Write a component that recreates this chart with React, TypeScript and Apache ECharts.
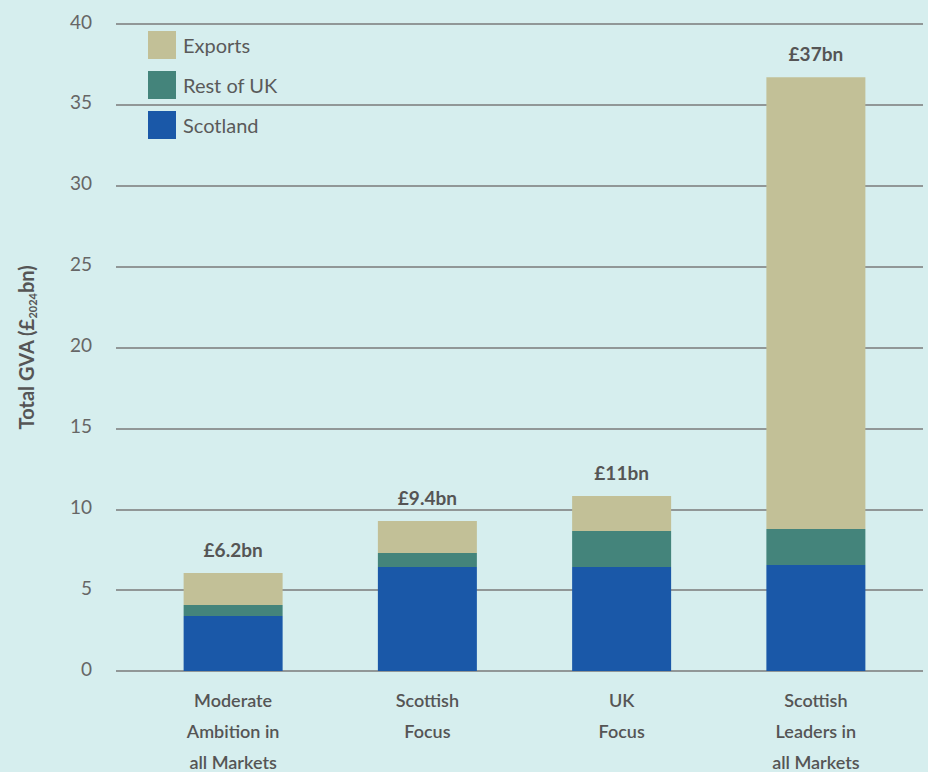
import React, { useEffect, useRef } from "react";
import * as echarts from "echarts";

const categories = ["Moderate\nAmbition in\nall Markets", "Scottish\nFocus", "UK\nFocus", "Scottish\nLeaders in\nall Markets"];
const scotland = [3.4, 6.43, 6.43, 6.55];
const restOfUK = [0.68, 0.86, 2.22, 2.23];
const exportsVals = [1.98, 1.98, 2.17, 27.93];
const totalLabels = ["£6.2bn", "£9.4bn", "£11bn", "£37bn"];
const yTicks = [0, 5, 10, 15, 20, 25, 30, 35, 40];

const FONT = "Lato, 'Noto Sans', sans-serif";
const BG = "#d6eeee";

export default function App() {
  const ref = useRef<HTMLDivElement>(null);
  useEffect(() => {
    if (!ref.current) return;
    const chart = echarts.init(ref.current, null, { renderer: "svg" });
    const yMin = yTicks[0];
    const yMax = yTicks[yTicks.length - 1];
    const yInt = yTicks[1] - yTicks[0];
    chart.setOption({
      animation: false,
      backgroundColor: BG,
      textStyle: { fontFamily: FONT },
      legend: {
        orient: "vertical",
        left: 143,
        top: 26,
        itemWidth: 28,
        itemHeight: 28,
        itemGap: 12,
        icon: "rect",
        data: ["Exports", "Rest of UK", "Scotland"],
        textStyle: { fontSize: 20, color: "#5a5a5a", fontFamily: FONT, padding: [0, 0, 0, 2] },
      },
      grid: [
        { left: 116, right: 5, top: 24, bottom: 101, outerBoundsMode: "none" },
        { left: 136, right: 15, top: 24, bottom: 101, outerBoundsMode: "none" },
      ],
      xAxis: [
        { type: "value", gridIndex: 0, show: false, min: 0, max: 1 },
        {
          type: "category",
          gridIndex: 1,
          data: categories,
          axisLine: { show: false },
          axisTick: { show: false },
          axisLabel: {
            interval: 0,
            margin: 13,
            fontSize: 18,
            fontWeight: 600,
            color: "#555",
            lineHeight: 31,
            fontFamily: FONT,
          },
        },
      ],
      yAxis: [
        {
          type: "value",
          gridIndex: 0,
          min: yMin,
          max: yMax,
          interval: yInt,
          axisLine: { show: false },
          axisTick: { show: false },
          splitLine: { show: true, showMinLine: true, showMaxLine: true, lineStyle: { color: "#7a7a7a", width: 1.5 } },
          axisLabel: {
            margin: 24,
            formatter: (v: number) => "{v|" + v + "}",
            rich: { v: { fontSize: 19, color: "#666", fontFamily: FONT, padding: [0, 0, 6, 0] } },
          },
          name: "{a|Total GVA (£}{s|2024}{a|bn)}",
          nameLocation: "middle",
          nameRotate: 90,
          nameGap: 78,
          nameTextStyle: {
            rich: {
              a: { fontSize: 20, fontWeight: "bold", color: "#555", fontFamily: FONT, lineHeight: 24 },
              s: { fontSize: 11, fontWeight: "bold", color: "#555", fontFamily: FONT, lineHeight: 24, verticalAlign: "bottom", padding: [9, 0, 0, 0] },
            },
          },
        },
        { type: "value", gridIndex: 1, min: yMin, max: yMax, interval: yInt, show: false, splitLine: { show: false } },
      ],
      series: [
        {
          name: "Scotland",
          type: "bar",
          stack: "t",
          xAxisIndex: 1,
          yAxisIndex: 1,
          barWidth: 99,
          data: scotland,
          itemStyle: { color: "#1a58a8" },
        },
        {
          name: "Rest of UK",
          type: "bar",
          stack: "t",
          xAxisIndex: 1,
          yAxisIndex: 1,
          barWidth: 99,
          data: restOfUK,
          itemStyle: { color: "#44847b" },
        },
        {
          name: "Exports",
          type: "bar",
          stack: "t",
          xAxisIndex: 1,
          yAxisIndex: 1,
          barWidth: 99,
          data: exportsVals,
          itemStyle: { color: "#c2c097" },
          label: {
            show: true,
            position: "top",
            distance: 14,
            formatter: (p: any) => totalLabels[p.dataIndex],
            fontSize: 19,
            fontWeight: "bold",
            color: "#555",
            fontFamily: FONT,
          },
        },
      ],
    });
    return () => chart.dispose();
  }, []);
  return (
    <div
      ref={ref}
      style={{ position: "fixed", left: 0, top: 0, width: 928, height: 772, background: BG }}
    />
  );
}
